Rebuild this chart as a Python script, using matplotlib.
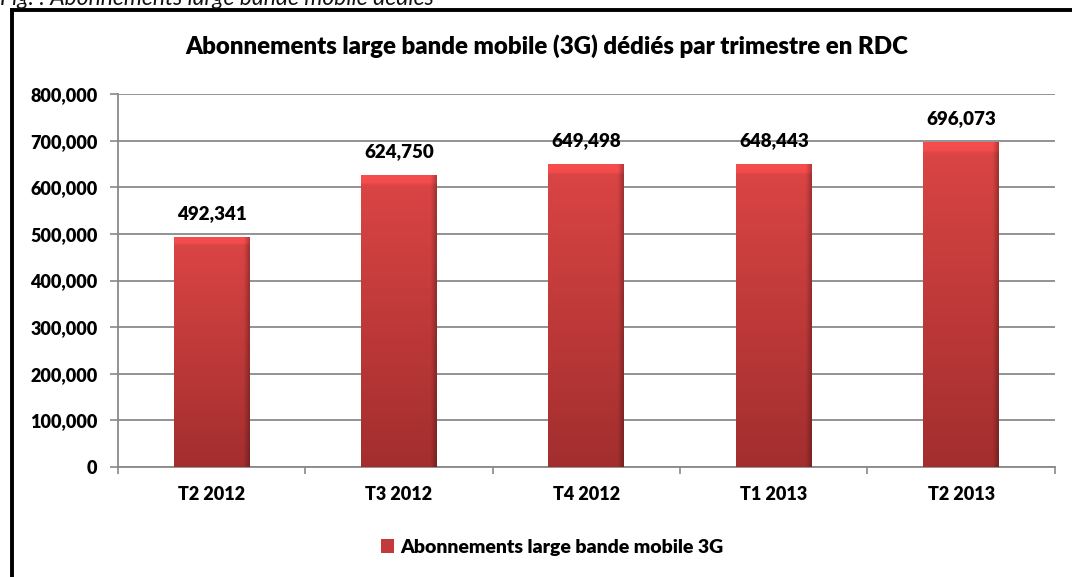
import matplotlib.pyplot as plt
import numpy as np
from matplotlib.ticker import FuncFormatter

# donnees
trimestres = ['T2 2012', 'T3 2012', 'T4 2012', 'T1 2013', 'T2 2013']
abonnements = [492341, 624750, 649498, 648443, 696073]

plt.rcParams['font.family'] = ['Lato', 'DejaVu Sans']
GRAS = 'heavy'

fig = plt.figure(figsize=(10.72, 5.77), dpi=100)
ax = fig.add_axes([0.110, 0.1906, 0.874, 0.6464])

x = np.arange(len(trimestres))
largeur = 0.405

# barres de base (pour la legende)
bars = ax.bar(x, abonnements, width=largeur, color='#c23a3a', zorder=2,
              label='Abonnements large bande mobile 3G')

# effet de relief : degrade dans chaque barre
ny, nx = 100, 40
yy = np.linspace(1, 0, ny)[:, None]
xx = np.linspace(0, 1, nx)[None, :]
haut = np.array([0.86, 0.27, 0.27])
bas = np.array([0.64, 0.18, 0.18])
for b in bars:
    x0 = b.get_x()
    w = b.get_width()
    h = b.get_height()
    img = bas + (haut - bas) * yy[..., None]
    img = np.broadcast_to(img, (ny, nx, 3)).copy()
    # bords lateraux plus sombres
    bord = np.clip(1 - 0.25 * np.maximum(0, (xx - 0.93) / 0.07), 0, 1)
    img *= bord[..., None]
    # haut biseaute plus clair
    top = (yy > 0.975)[..., 0]
    img[top] = np.clip(img[top] * 1.12, 0, 1)
    ax.imshow(img, extent=[x0, x0 + w, 0, h], aspect='auto', zorder=3,
              interpolation='bilinear')

for xi, v in zip(x, abonnements):
    ax.annotate(f'{v:,}', (xi, v), xytext=(0, 11), textcoords='offset points',
                ha='center', va='bottom', fontsize=13.5, fontweight=GRAS)

ax.set_xlim(-0.5, len(trimestres) - 0.5)
ax.set_ylim(0, 800000)
ax.set_yticks(np.arange(0, 800001, 100000))
ax.yaxis.set_major_formatter(FuncFormatter(lambda v, p: f'{int(v):,}'))
ax.set_xticks(x)
ax.set_xticklabels(trimestres)
ax.set_xticks(np.arange(-0.5, len(trimestres)), minor=True)
ax.tick_params(axis='x', which='major', length=0, pad=14, labelsize=13)
ax.tick_params(axis='x', which='minor', length=5, color='#898989', width=1.2)
ax.tick_params(axis='y', length=5.8, color='#898989', width=1.2, pad=9, labelsize=13)
for lab in ax.get_xticklabels() + ax.get_yticklabels():
    lab.set_fontweight(GRAS)

ax.grid(axis='y', color='#8a8a8a', linewidth=1.3, zorder=0)
ax.set_axisbelow(True)
ax.spines['top'].set_visible(False)
ax.spines['right'].set_visible(False)
ax.spines['left'].set_color('#898989')
ax.spines['bottom'].set_color('#898989')
ax.spines['left'].set_linewidth(1.3)
ax.spines['bottom'].set_linewidth(1.3)

fig.text(0.51, 1 - 54 / 577, 'Abonnements large bande mobile (3G) dédiés par trimestre en RDC',
         ha='center', va='baseline', fontsize=17.3, fontweight=GRAS)

leg = fig.legend(handles=[bars], loc='center', bbox_to_anchor=(0.515, 1 - 547 / 577),
                 frameon=False, fontsize=14, handlelength=0.7, handleheight=0.7,
                 handletextpad=0.3)
for t in leg.get_texts():
    t.set_fontweight(GRAS)

# legende de figure en haut (coupee)
fig.text(0.0, 1 - 5 / 577, 'Fig. : Abonnements large bande mobile dédiés', ha='left', va='baseline',
         fontsize=16.5, style='italic', color='#111111')

# cadre noir
fig.add_artist(plt.Line2D([12 / 1072, 12 / 1072], [0, 1 - 10 / 577], transform=fig.transFigure,
                          color='black', linewidth=2.8, solid_capstyle='projecting'))
fig.add_artist(plt.Line2D([12 / 1072, 1], [1 - 10 / 577, 1 - 10 / 577], transform=fig.transFigure,
                          color='black', linewidth=2.8, solid_capstyle='projecting'))

fig.savefig('out.png', dpi=100)
